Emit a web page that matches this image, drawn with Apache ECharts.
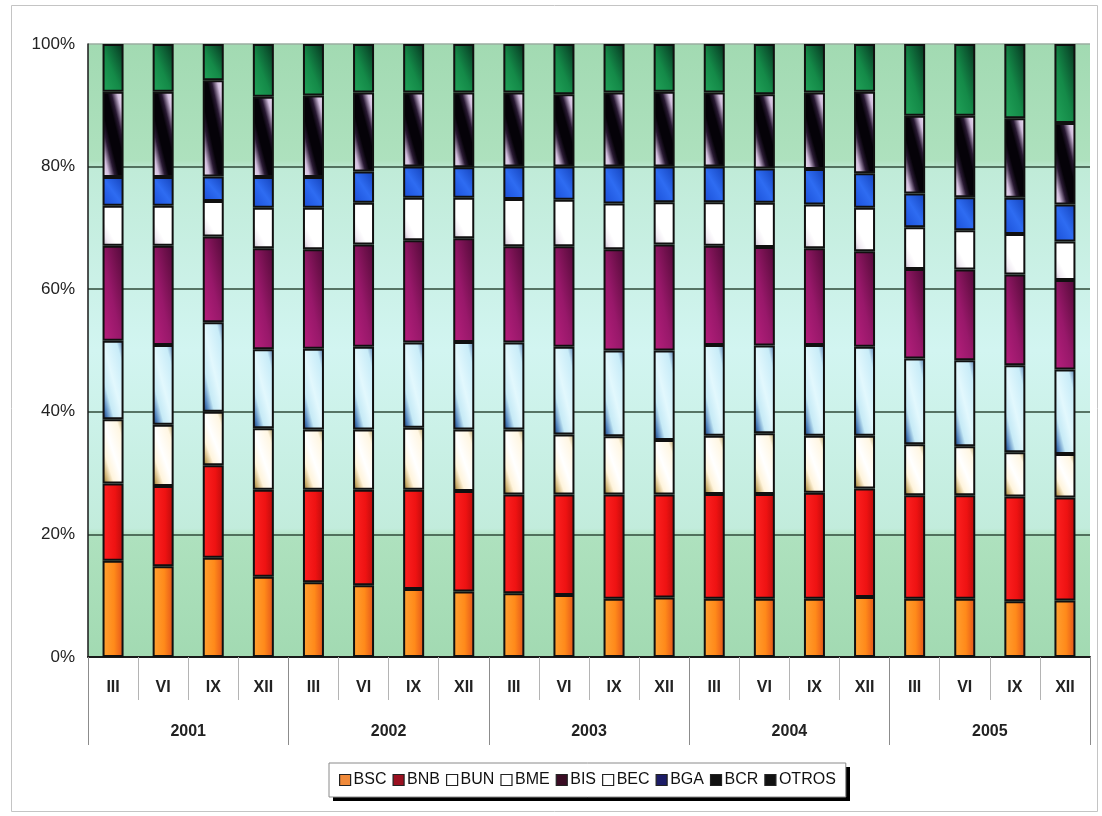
<!DOCTYPE html>
<html>
<head>
<meta charset="utf-8">
<script src="https://cdn.jsdelivr.net/npm/echarts@6/dist/echarts.min.js"></script>
<style>
  html, body { margin: 0; padding: 0; background: #ffffff; }
  #chart { width: 1102px; height: 816px; }
</style>
</head>
<body>
<div id="chart"></div>
<script>
// Quarter labels (months) and years
const categories = ['III','VI','IX','XII','III','VI','IX','XII','III','VI','IX','XII',
                    'III','VI','IX','XII','III','VI','IX','XII'];
const years = ['2001','2002','2003','2004','2005'];
const yTicks = [0, 20, 40, 60, 80, 100];

// Share of each bank (%), one value per quarter
const BSC   = [15.7,14.8,16.2,13.1,12.2,11.7,11.1,10.7,10.4,10.1, 9.5, 9.7, 9.5, 9.5, 9.5, 9.8, 9.5, 9.5, 9.1, 9.2];
const BNB   = [12.6,13.1,15.1,14.2,15.1,15.6,16.2,16.4,16.1,16.4,17.0,16.8,17.1,17.1,17.3,17.7,16.9,16.9,17.1,16.8];
const BUN   = [10.5,10.0, 8.7,10.0, 9.8, 9.8,10.1,10.0,10.6, 9.8, 9.5, 8.9, 9.5, 9.9, 9.3, 8.6, 8.3, 8.0, 7.2, 7.1];
const BME   = [12.8,13.0,14.6,12.9,13.2,13.5,13.9,14.3,14.2,14.3,14.0,14.6,14.8,14.3,14.8,14.5,14.0,14.0,14.2,13.8];
const BIS   = [15.5,16.2,14.0,16.5,16.2,16.7,16.7,16.9,15.7,16.4,16.5,17.3,16.2,16.1,15.8,15.6,14.6,14.8,14.8,14.6];
const BEC   = [ 6.5, 6.5, 5.8, 6.6, 6.8, 6.8, 6.9, 6.6, 7.7, 7.6, 7.5, 6.9, 7.1, 7.2, 7.1, 7.1, 6.8, 6.4, 6.6, 6.3];
const BGA   = [ 4.7, 4.7, 4.0, 5.0, 5.0, 5.1, 5.1, 5.0, 5.3, 5.4, 6.0, 5.8, 5.8, 5.6, 5.8, 5.6, 5.5, 5.4, 5.9, 6.0];
const BCR   = [13.9,13.9,15.7,13.1,13.3,12.9,12.1,12.2,12.1,11.8,12.1,12.2,12.1,12.1,12.5,13.3,12.7,13.3,13.0,13.3];
const OTROS = [ 7.8, 7.8, 5.9, 8.6, 8.4, 7.9, 7.9, 7.9, 7.9, 8.2, 7.9, 7.8, 7.9, 8.2, 7.9, 7.8,11.7,11.7,12.1,12.9];

// Styling helpers
const FONT = 'Liberation Sans, Arial, sans-serif';
const PX_PER_PCT = 6.13;   // plot height / 100
const BAR_W = 21;

function stopsOf(list) {
  return list.map(s => ({ offset: s[0], color: s[1] }));
}
// Gradient whose bands run along the segment's top-left -> bottom-right diagonal
function diagFill(v, stops) {
  const h = Math.max(v * PX_PER_PCT, 1), w = BAR_W;
  const a = h * h / (h * h + w * w), b = w * w / (h * h + w * w);
  return { type: 'linear', x: 0.5 - a, y: 0.5 + b, x2: 0.5 + a, y2: 0.5 - b,
           colorStops: stopsOf(stops), global: false };
}
function hFill(stops) {
  return { type: 'linear', x: 0, y: 0, x2: 1, y2: 0, colorStops: stopsOf(stops), global: false };
}

const seriesDefs = [
  { name: 'BSC', values: BSC, fill: () => hFill([[0,'#ffa232'],[0.55,'#ff8a1a'],[1,'#e4521a']]),
    legend: '#f08a3a' },
  { name: 'BNB', values: BNB, fill: () => hFill([[0,'#ff2222'],[0.6,'#ee1212'],[1,'#b80c0c']]),
    legend: '#9a1020' },
  { name: 'BUN', values: BUN, fill: v => diagFill(v, [[0,'#6a5420'],[0.12,'#c8aa68'],[0.28,'#fff4dc'],[0.5,'#ffffff'],[0.82,'#fff6e2'],[1,'#b09858']]),
    legend: '#ffffff' },
  { name: 'BME', values: BME, fill: v => diagFill(v, [[0,'#10285a'],[0.12,'#4a7cb8'],[0.28,'#c6eaf6'],[0.5,'#e2f8fd'],[0.82,'#c8ecf8'],[1,'#4a6ea8']]),
    legend: '#ffffff' },
  { name: 'BIS', values: BIS, fill: v => diagFill(v, [[0,'#b8207e'],[0.45,'#98186a'],[0.75,'#70104c'],[1,'#50083a']]),
    legend: '#3a0c24' },
  { name: 'BEC', values: BEC, fill: v => diagFill(v, [[0,'#bcaec6'],[0.18,'#f0eaf2'],[0.35,'#ffffff'],[1,'#ffffff']]),
    legend: '#ffffff' },
  { name: 'BGA', values: BGA, fill: v => diagFill(v, [[0,'#1a4ed6'],[0.5,'#2e6cf2'],[1,'#1240b8']]),
    legend: '#1c1c66' },
  { name: 'BCR', values: BCR, fill: v => diagFill(v, [[0,'#f4ecf8'],[0.16,'#d0bcdc'],[0.3,'#2a1a34'],[0.4,'#050208'],[0.6,'#050208'],[0.7,'#2a1a34'],[0.84,'#d0bcdc'],[1,'#f6eefa']]),
    legend: '#111111' },
  { name: 'OTROS', values: OTROS, fill: v => diagFill(v, [[0,'#22a45a'],[0.45,'#148a48'],[0.75,'#0c5a32'],[1,'#05301a']]),
    legend: '#111111' }
];

const chart = echarts.init(document.getElementById('chart'), null, { renderer: 'canvas' });

const option = {
  animation: false,
  backgroundColor: '#ffffff',
  graphic: [
    {
      type: 'rect', silent: true, z: -10,
      shape: { x: 11.5, y: 5.5, width: 1086, height: 806 },
      style: { fill: 'none', stroke: '#c4c4c4', lineWidth: 1 }
    },
    {
      // drop shadow behind the legend box
      type: 'rect', silent: true, z: 0,
      shape: { x: 333, y: 767, width: 517, height: 34 },
      style: { fill: '#000000' }
    }
  ],
  grid: {
    left: 88, right: 12, top: 44, bottom: 159,
    show: true, borderWidth: 0,
    backgroundColor: {
      type: 'linear', x: 0, y: 0, x2: 0, y2: 1, global: false,
      colorStops: stopsOf([[0,'#a2dab2'],[0.19,'#aee1be'],[0.205,'#c0ebd8'],[0.5,'#d2f5f1'],
                           [0.79,'#c2ecdc'],[0.805,'#aee1be'],[1,'#a2dab2']])
    }
  },
  legend: {
    left: 329, top: 763,
    padding: [9, 10, 9, 10],
    itemGap: 6, itemWidth: 11, itemHeight: 11,
    icon: 'rect',
    backgroundColor: '#ffffff',
    borderColor: '#8a8a8a', borderWidth: 1,
    textStyle: { fontFamily: FONT, fontSize: 16, color: '#111111', padding: [0, 0, 0, -2] },
    data: seriesDefs.map(s => ({
      name: s.name,
      itemStyle: { color: s.legend, borderColor: '#222222', borderWidth: 1.2 }
    }))
  },
  xAxis: [
    {
      type: 'category',
      data: categories,
      position: 'bottom',
      axisLine: { show: true, lineStyle: { color: '#1a1a1a', width: 2 } },
      axisTick: { show: true, interval: 0, length: 43, lineStyle: { color: '#b4b4b4', width: 1 } },
      axisLabel: { interval: 0, margin: 23, fontFamily: FONT, fontSize: 16, fontWeight: 'bold', color: '#222222' },
      splitLine: { show: false }
    },
    {
      type: 'category',
      data: years,
      position: 'bottom',
      axisLine: { show: false },
      axisTick: { show: true, interval: 0, length: 88, lineStyle: { color: '#8c8c8c', width: 1 } },
      axisLabel: { interval: 0, margin: 67, fontFamily: FONT, fontSize: 16, fontWeight: 'bold', color: '#222222' },
      splitLine: { show: false }
    }
  ],
  yAxis: {
    type: 'value',
    min: 0, max: 100, interval: 20,
    axisLine: { show: true, lineStyle: { color: '#1a1a1a', width: 1.5 } },
    axisTick: { show: false },
    axisLabel: { formatter: '{value}%', margin: 13, fontFamily: FONT, fontSize: 17, color: '#222222' },
    splitLine: {
      show: true,
      lineStyle: {
        color: yTicks.map(t => (t === 100 ? '#9aaea0' : '#2f4a38')),
        width: 1.5
      }
    }
  },
  series: seriesDefs.map(s => ({
    name: s.name,
    type: 'bar',
    stack: 'share',
    xAxisIndex: 0,
    barWidth: BAR_W,
    itemStyle: { color: s.legend, borderColor: '#101010', borderWidth: 2 },
    emphasis: { disabled: true },
    data: s.values.map(v => ({ value: v, itemStyle: { color: s.fill(v) } }))
  }))
};

chart.setOption(option);
</script>
</body>
</html>
